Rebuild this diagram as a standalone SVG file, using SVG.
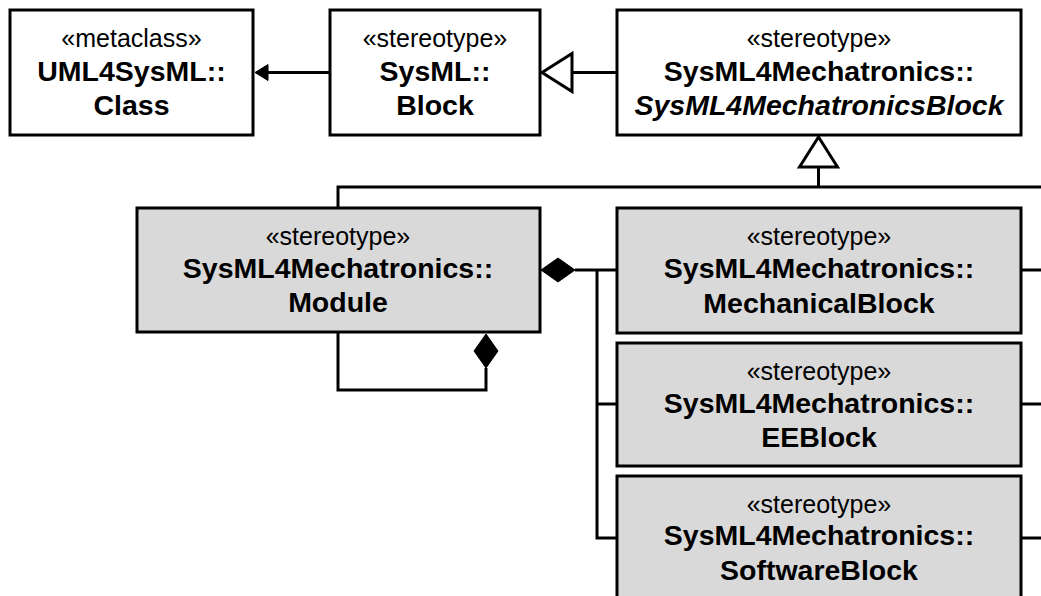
<svg xmlns="http://www.w3.org/2000/svg" width="1041" height="596" viewBox="0 0 1041 596">
<style>
.box{fill:#fff;stroke:#000;stroke-width:3}
.gbox{fill:#d9d9d9;stroke:#000;stroke-width:3}
.st{font-family:"Liberation Sans",Arial,sans-serif;font-size:25px;text-anchor:middle;fill:#000}
.nm{font-family:"Liberation Sans",Arial,sans-serif;font-size:28.5px;font-weight:bold;text-anchor:middle;fill:#000}
.it{font-style:italic}
.ln{fill:none;stroke:#000;stroke-width:3}
.tri{fill:#fff;stroke:#000;stroke-width:3;stroke-linejoin:miter}
.fill{fill:#000;stroke:#000;stroke-width:1}
</style>
<rect width="1041" height="596" fill="#fff"/>
<g id="connectors">
  <line class="ln" x1="330" y1="72.5" x2="266" y2="72.5"/>
  <polygon class="fill" points="255,72.5 268,64.5 268,80.5"/>
  <line class="ln" x1="617" y1="72.5" x2="572" y2="72.5"/>
  <polygon class="tri" points="542,72.5 572,53.5 572,91.5"/>
  <polygon class="tri" points="818.5,137 799.5,167 837.5,167"/>
  <line class="ln" x1="818.5" y1="167" x2="818.5" y2="187"/>
  <polyline class="ln" points="338,208 338,187 1041,187"/>
  <line class="ln" x1="1021" y1="270" x2="1041" y2="270"/>
  <line class="ln" x1="1021" y1="404" x2="1041" y2="404"/>
  <line class="ln" x1="1021" y1="538" x2="1041" y2="538"/>
  <polygon class="fill" points="541,270 558,258 575,270 558,282"/>
  <line class="ln" x1="575" y1="270" x2="617" y2="270"/>
  <polyline class="ln" points="597,270 597,538 617,538"/>
  <line class="ln" x1="597" y1="404" x2="617" y2="404"/>
  <polygon class="fill" points="486,334 498,351 486,368 474,351"/>
  <polyline class="ln" points="338,332 338,390 486,390 486,368"/>
</g>
<g id="class">
  <rect class="box" x="10" y="10" width="243" height="125"/>
  <text class="st" x="131.5" y="47">«metaclass»</text>
  <text class="nm" x="131.5" y="81">UML4SysML::</text>
  <text class="nm" x="131.5" y="115">Class</text>
</g>
<g id="block">
  <rect class="box" x="330" y="10" width="210" height="125"/>
  <text class="st" x="435" y="47">«stereotype»</text>
  <text class="nm" x="435" y="81">SysML::</text>
  <text class="nm" x="435" y="115">Block</text>
</g>
<g id="m4mblock">
  <rect class="box" x="617" y="10" width="404" height="125"/>
  <text class="st" x="819" y="47">«stereotype»</text>
  <text class="nm" x="819" y="81">SysML4Mechatronics::</text>
  <text class="nm it" x="819" y="115">SysML4MechatronicsBlock</text>
</g>
<g id="module">
  <rect class="gbox" x="137" y="208" width="403" height="124"/>
  <text class="st" x="338" y="245">«stereotype»</text>
  <text class="nm" x="338" y="278">SysML4Mechatronics::</text>
  <text class="nm" x="338" y="312">Module</text>
</g>
<g id="mechanical">
  <rect class="gbox" x="617" y="208" width="404" height="125"/>
  <text class="st" x="819" y="245">«stereotype»</text>
  <text class="nm" x="819" y="278">SysML4Mechatronics::</text>
  <text class="nm" x="819" y="313">MechanicalBlock</text>
</g>
<g id="ee">
  <rect class="gbox" x="617" y="343" width="404" height="123"/>
  <text class="st" x="819" y="380">«stereotype»</text>
  <text class="nm" x="819" y="413">SysML4Mechatronics::</text>
  <text class="nm" x="819" y="447">EEBlock</text>
</g>
<g id="software">
  <rect class="gbox" x="617" y="476" width="404" height="140"/>
  <text class="st" x="819" y="513">«stereotype»</text>
  <text class="nm" x="819" y="545">SysML4Mechatronics::</text>
  <text class="nm" x="819" y="580">SoftwareBlock</text>
</g>
</svg>
